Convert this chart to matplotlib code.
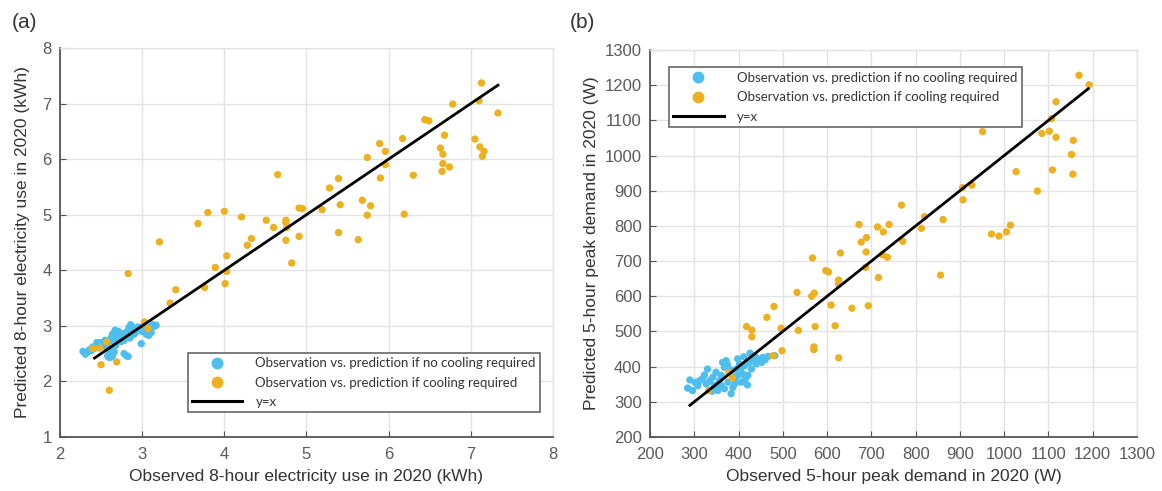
import matplotlib
matplotlib.use("Agg")
import matplotlib.pyplot as plt
from matplotlib.lines import Line2D

# Panel (a): 8-hour electricity use (kWh)
a_nocool_x = [2.28, 2.33, 2.36, 2.40, 2.43, 2.46, 2.49, 2.52, 2.55, 2.57, 2.60, 2.62, 2.64, 2.66,
              2.68, 2.70, 2.72, 2.74, 2.76, 2.78, 2.80, 2.82, 2.84, 2.86, 2.88, 2.90, 2.92, 2.95,
              2.98, 3.02, 3.06, 3.10, 3.13, 3.15, 2.58, 2.60, 2.62, 2.64, 2.66, 2.78, 2.81, 2.83,
              2.99, 3.05, 3.08, 2.55, 2.65, 2.70, 2.75, 2.85, 2.87, 2.50, 2.68, 2.72, 2.90, 2.62,
              2.58, 2.31, 2.38, 2.45, 2.53, 2.67, 2.77, 2.93, 3.00, 3.11, 3.17, 2.63, 2.71]
a_nocool_y = [2.54, 2.52, 2.57, 2.62, 2.60, 2.66, 2.70, 2.68, 2.74, 2.62, 2.55, 2.78, 2.85, 2.80,
              2.88, 2.82, 2.87, 2.84, 2.78, 2.74, 2.80, 2.90, 2.97, 3.02, 2.92, 2.96, 2.88, 2.98,
              2.95, 3.00, 2.92, 2.98, 3.02, 2.99, 2.46, 2.43, 2.50, 2.47, 2.53, 2.50, 2.46, 2.45,
              2.68, 2.85, 2.83, 2.70, 2.72, 2.76, 2.72, 2.78, 2.83, 2.63, 2.65, 2.80, 2.85, 2.58,
              2.67, 2.49, 2.55, 2.70, 2.64, 2.92, 2.86, 2.93, 2.90, 2.88, 3.01, 2.44, 2.90]
a_cool_x = [2.83, 3.21, 3.41, 3.68, 3.80, 3.89, 3.76, 4.00, 4.03, 4.03, 4.01, 4.21, 4.28, 4.33,
            4.51, 4.60, 4.65, 4.75, 4.75, 4.76, 4.75, 4.82, 4.91, 4.91, 4.95, 5.19, 5.28, 5.39,
            5.39, 5.41, 5.63, 5.68, 5.74, 5.74, 5.78, 5.89, 5.96, 5.90, 5.96, 6.17, 6.19, 6.30,
            6.44, 6.49, 6.63, 6.66, 6.68, 6.66, 6.65, 6.74, 6.78, 7.05, 7.10, 7.13, 7.11, 7.16,
            7.14, 7.33, 3.34, 3.03, 3.07, 2.40, 2.48, 2.57, 2.50, 2.69, 2.60]
a_cool_y = [3.94, 4.51, 3.65, 4.84, 5.04, 4.05, 3.69, 5.06, 4.26, 3.98, 3.76, 4.96, 4.45, 4.57,
            4.90, 4.77, 5.72, 4.90, 4.86, 4.77, 4.54, 4.13, 4.61, 5.12, 5.11, 5.09, 5.48, 5.65,
            4.68, 5.18, 4.55, 5.26, 6.03, 4.99, 5.16, 6.28, 6.14, 5.66, 5.90, 6.37, 5.01, 5.71,
            6.71, 6.69, 6.20, 6.09, 6.43, 5.92, 5.78, 5.86, 6.99, 6.36, 7.05, 7.37, 6.22, 6.14,
            6.05, 6.83, 3.41, 3.07, 2.95, 2.59, 2.60, 2.71, 2.30, 2.35, 1.84]
a_line = [2.42, 7.33]

# Panel (b): 5-hour peak demand (W)
b_nocool_x = [285, 290, 296, 308, 311, 323, 327, 335, 342, 345, 353, 357, 361, 364, 368, 368,
              376, 383, 387, 391, 395, 398, 402, 406, 410, 414, 420, 425, 429, 433, 436, 440,
              444, 452, 455, 467, 482, 361, 349, 330, 415, 398, 383, 372, 421, 340, 318, 405,
              375, 380, 392, 412, 426, 447, 460, 350, 302]
b_nocool_y = [339, 362, 332, 346, 359, 376, 351, 360, 370, 346, 332, 360, 375, 412, 398, 337,
              356, 323, 341, 365, 393, 422, 408, 356, 379, 403, 348, 412, 393, 422, 431, 408,
              422, 412, 426, 429, 431, 346, 384, 393, 365, 375, 384, 417, 375, 330, 365, 395,
              405, 392, 352, 428, 438, 418, 420, 345, 355]
b_cool_x = [1169, 1192, 1117, 1107, 951, 1085, 1102, 1117, 1156, 1152, 1155, 1109, 1027, 1075,
            927, 906, 907, 1014, 1005, 988, 971, 862, 820, 813, 768, 771, 740, 727, 714, 672,
            677, 689, 688, 725, 736, 687, 716, 856, 567, 630, 597, 603, 626, 626, 532, 565,
            571, 609, 656, 693, 480, 464, 418, 430, 430, 496, 535, 573, 618, 570, 570, 498,
            478, 626, 378, 386, 333]
b_cool_y = [1228, 1201, 1153, 1105, 1068, 1063, 1069, 1052, 1043, 1003, 947, 959, 954, 899,
            916, 909, 874, 802, 783, 771, 777, 818, 826, 793, 859, 756, 804, 783, 797, 804,
            754, 767, 726, 718, 711, 682, 653, 660, 709, 723, 673, 669, 646, 634, 611, 600,
            609, 575, 566, 573, 571, 540, 514, 504, 485, 509, 503, 514, 516, 456, 448, 445,
            431, 425, 383, 368, 332]
b_line = [290, 1190]

blue = "#4DBEEE"
orange = "#EDB120"
tick_gray = "#5a5a5a"
label_color = "#333333"

plt.rcParams["font.family"] = ["Liberation Sans", "DejaVu Sans"]

fig = plt.figure(figsize=(11.62, 4.91), dpi=100)
ax_a = fig.add_axes([0.0516, 0.110, 0.4243, 0.7923])
ax_b = fig.add_axes([0.5594, 0.110, 0.4191, 0.7882])


def style_axes(ax):
    ax.grid(True, color="#e3e3e3", linewidth=1.0)
    ax.set_axisbelow(True)
    for side in ["top", "right"]:
        ax.spines[side].set_color("#e3e3e3")
        ax.spines[side].set_linewidth(1.0)
    for side in ["left", "bottom"]:
        ax.spines[side].set_color("#555555")
        ax.spines[side].set_linewidth(1.3)
    ax.tick_params(direction="in", length=4, width=0.8, color="#555555",
                   labelcolor=tick_gray, labelsize=12)
    ax.tick_params(axis="x", pad=7)
    ax.tick_params(axis="y", pad=6)


def add_legend(ax, **kw):
    handles = [
        Line2D([], [], marker="o", linestyle="none", markersize=7.5, color=blue),
        Line2D([], [], marker="o", linestyle="none", markersize=7.5, color=orange),
        Line2D([], [], color="black", linewidth=2.2),
    ]
    labels = ["Observation vs. prediction if no cooling required",
              "Observation vs. prediction if cooling required",
              "y=x"]
    leg = ax.legend(handles, labels, prop={"family": "Lato", "size": 9.5},
                    handlelength=3.8, handletextpad=1.0, labelspacing=0.55,
                    borderpad=0.35, fancybox=False, framealpha=1, **kw)
    leg.get_frame().set_edgecolor("#666666")
    leg.get_frame().set_linewidth(1.2)
    for t in leg.get_texts():
        t.set_color("#333333")
    return leg


# (a)
ax_a.scatter(a_nocool_x, a_nocool_y, s=28, color=blue, edgecolors="none", zorder=2)
ax_a.scatter(a_cool_x, a_cool_y, s=28, color=orange, edgecolors="none", zorder=3)
ax_a.plot(a_line, a_line, color="black", linewidth=2.0, zorder=4)
ax_a.set_xlim(2, 8)
ax_a.set_ylim(1, 8)
ax_a.set_xticks(range(2, 9))
ax_a.set_yticks(range(1, 9))
style_axes(ax_a)
ax_a.set_xlabel("Observed 8-hour electricity use in 2020 (kWh)",
                fontsize=12.5, color=label_color, labelpad=5)
ax_a.set_ylabel("Predicted 8-hour electricity use in 2020 (kWh)",
                fontsize=12.5, color=label_color, labelpad=9)
add_legend(ax_a, loc="lower right", bbox_to_anchor=(0.988, 0.046))

# (b)
ax_b.scatter(b_nocool_x, b_nocool_y, s=28, color=blue, edgecolors="none", zorder=2)
ax_b.scatter(b_cool_x, b_cool_y, s=28, color=orange, edgecolors="none", zorder=3)
ax_b.plot(b_line, b_line, color="black", linewidth=2.0, zorder=4)
ax_b.set_xlim(200, 1300)
ax_b.set_ylim(200, 1300)
ax_b.set_xticks(range(200, 1301, 100))
ax_b.set_yticks(range(200, 1301, 100))
style_axes(ax_b)
ax_b.set_xlabel("Observed 5-hour peak demand in 2020 (W)",
                fontsize=12.5, color=label_color, labelpad=5)
ax_b.set_ylabel("Predicted 5-hour peak demand in 2020 (W)",
                fontsize=12.5, color=label_color, labelpad=4)
add_legend(ax_b, loc="upper left", bbox_to_anchor=(0.025, 0.972))

fig.text(0.010, 0.955, "(a)", fontsize=15, color=label_color, va="center")
fig.text(0.490, 0.955, "(b)", fontsize=15, color=label_color, va="center")

fig.savefig("out.png", dpi=100)
